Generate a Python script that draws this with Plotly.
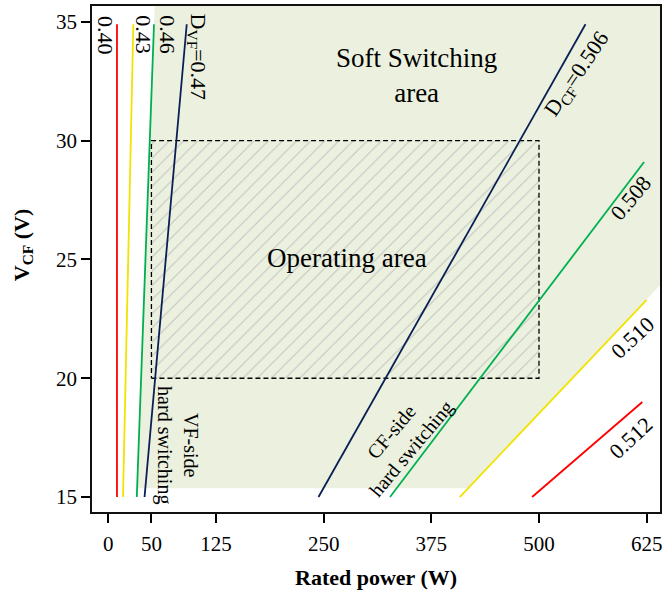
import plotly.graph_objects as go

# VF-side hard-switching limits: one line per VF duty cycle (power in W at V_CF = 15 V and at the top)
vf_duty = ["0.40", "0.43", "0.46", "D<sub>VF</sub>=0.47"]
vf_power_low = [10, 17, 33, 42]
vf_power_high = [10, 29, 53, 91]
vf_voltage = [15, 34.9]

# CF-side hard-switching limits: one line per CF duty cycle
cf_duty = ["D<sub>CF</sub>=0.506", "0.508", "0.510", "0.512"]
cf_power_start = [244, 327, 408, 492]
cf_power_end = [554, 622, 625, 620]
cf_voltage_end = [34.9, 29.1, 23.3, 19.0]

# Soft-switching region outline (power W, voltage V)
soft_power = [33.4, 417.7, 660, 660, 54.1, 33.4]
soft_voltage = [15.37, 15.37, 24.66, 36, 36, 15.37]

# Operating area
operating_power = [50, 500]
operating_voltage = [20, 30]

x_ticks = [0, 50, 125, 250, 375, 500, 625]
y_ticks = [15, 20, 25, 30, 35]

vf_colors = ["#FF0000", "#F2E300", "#00B050", "#0B1F55"]
cf_colors = ["#0B1F55", "#00B050", "#F2E300", "#FF0000"]

FONT = "Liberation Serif"

fig = go.Figure()

# soft-switching area
fig.add_trace(go.Scatter(
    x=soft_power, y=soft_voltage, mode="lines", fill="toself",
    fillcolor="#EBF1DE", line=dict(width=0), hoverinfo="skip", showlegend=False))

# operating area, hatched with dashed border
p0, p1 = operating_power
v0, v1 = operating_voltage
fig.add_trace(go.Scatter(
    x=[p0, p1, p1, p0, p0], y=[v0, v0, v1, v1, v0], mode="lines", fill="toself",
    fillcolor="rgba(0,0,0,0)",
    fillpattern=dict(shape="/", fgcolor="#C2C2C2", bgcolor="rgba(0,0,0,0)",
                     size=10, solidity=0.1, fillmode="replace"),
    line=dict(color="black", width=1.3, dash="5px,3px"),
    hoverinfo="skip", showlegend=False))

for lo, hi, c in zip(vf_power_low, vf_power_high, vf_colors):
    fig.add_trace(go.Scatter(x=[lo, hi], y=vf_voltage, mode="lines",
                             line=dict(color=c, width=1.8), showlegend=False))

for s, e, ve, c in zip(cf_power_start, cf_power_end, cf_voltage_end, cf_colors):
    fig.add_trace(go.Scatter(x=[s, e], y=[15, ve], mode="lines",
                             line=dict(color=c, width=1.8), showlegend=False))

ann = []
def label(text, x, y, angle=0, size=22, **kw):
    ann.append(dict(text=text, x=x, y=y, xref="x", yref="y", showarrow=False,
                    textangle=angle, font=dict(family=FONT, size=size, color="black"),
                    xanchor="center", yanchor="middle", **kw))

# VF duty labels (vertical, reading downward)
label(vf_duty[0], -3.8, 34.45, 90)
label(vf_duty[1], 40, 34.45, 90)
label(vf_duty[2], 67.8, 34.45, 90)
label(vf_duty[3], 104, 33.5, 90)

# CF duty labels
label(cf_duty[0], 545, 32.8, -56)
label(cf_duty[1], 607, 27.6, -50)
label(cf_duty[2], 609, 21.7, -43)
label(cf_duty[3], 607, 17.5, -43)

label("Soft Switching<br>area", 358, 32.74, 0, size=27)
label("Operating area", 277, 25.06, 0, size=27)
label("VF-side<br>hard switching", 81, 17.18, 90, size=20)
label("CF-side<br>hard switching", 340, 17.4, -50, size=20)

# axis titles
ann.append(dict(text="<b>Rated power (W)</b>", xref="paper", yref="paper",
                x=0.4998, y=0, yshift=-65, showarrow=False,
                font=dict(family=FONT, size=22, color="black"),
                xanchor="center", yanchor="middle"))
ann.append(dict(text="<b>V<sub>CF</sub> (V)</b>", xref="paper", yref="y",
                x=0, y=25.6, xshift=-69, showarrow=False, textangle=-90,
                font=dict(family=FONT, size=22, color="black"),
                xanchor="center", yanchor="middle"))

fig.update_layout(
    width=666, height=593,
    margin=dict(l=92, r=4, t=4, b=81),
    paper_bgcolor="white", plot_bgcolor="white",
    annotations=ann,
    font=dict(family=FONT, size=21, color="black"),
)
fig.update_xaxes(range=[-19, 640.5], tickvals=x_ticks, ticks="outside", ticklen=9,
                 tickwidth=1.5, tickcolor="black", showline=True, linecolor="#111",
                 linewidth=1.8, mirror=True, showgrid=False, zeroline=False,
                 ticklabelstandoff=3, tickfont=dict(family=FONT, size=21))
fig.update_yaxes(range=[14.37, 35.67], tickvals=y_ticks, ticks="outside", ticklen=9,
                 tickwidth=1.5, tickcolor="black", showline=True, linecolor="#111",
                 linewidth=1.8, mirror=True, showgrid=False, zeroline=False,
                 tickfont=dict(family=FONT, size=21))

fig.write_html("out.html")
